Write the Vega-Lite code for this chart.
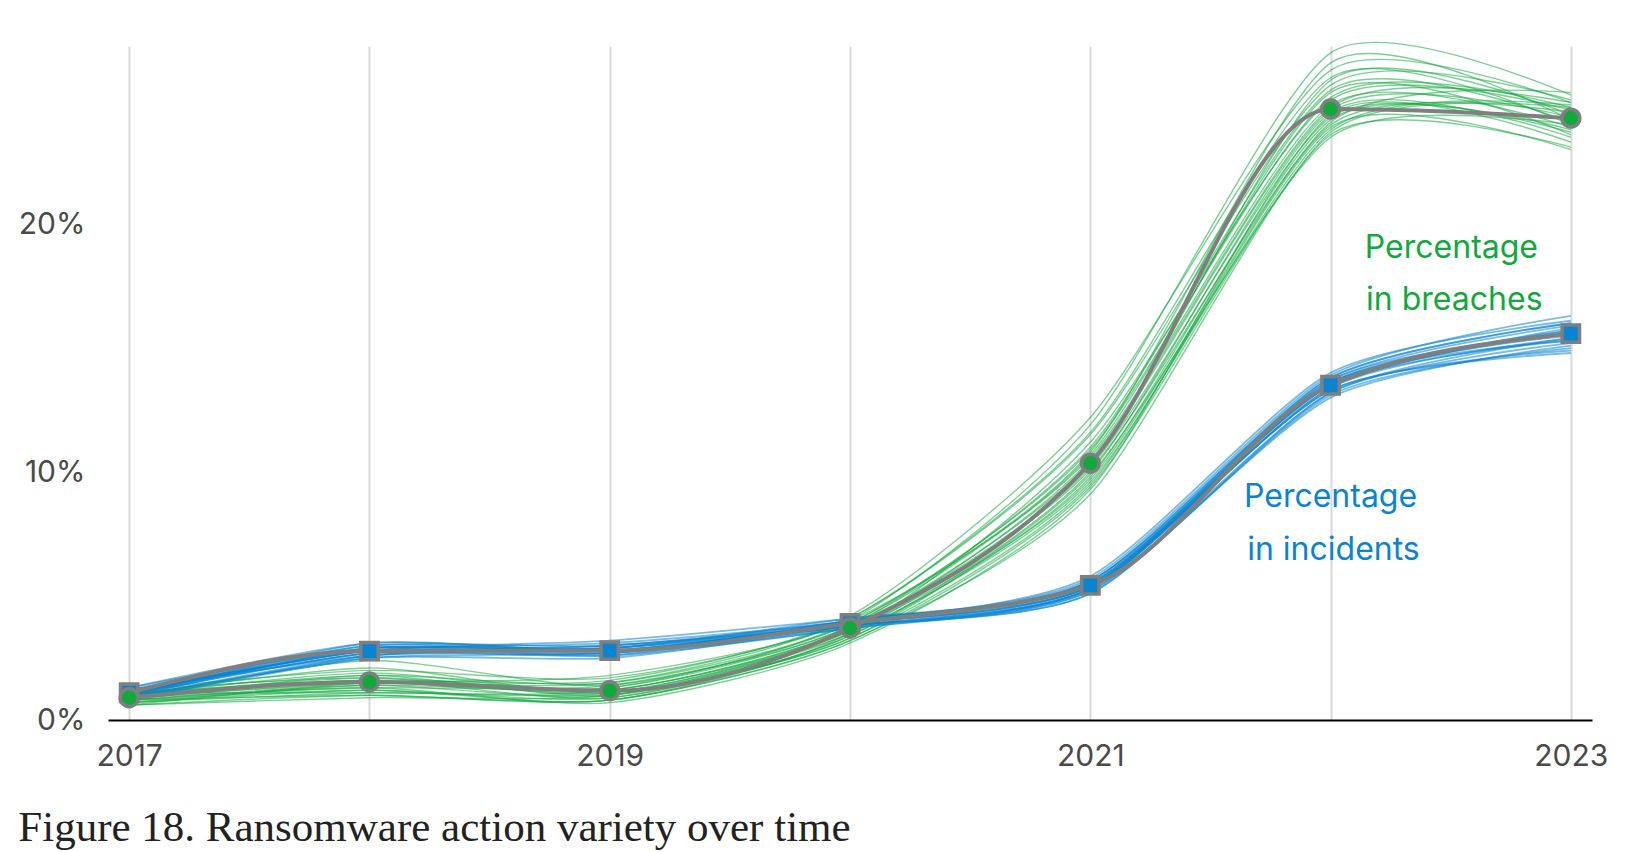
{
  "$schema": "https://vega.github.io/schema/vega-lite/v6.json",
  "width": 1484,
  "height": 674,
  "autosize": {"type": "none"},
  "padding": {"left": 108, "top": 46, "right": 50, "bottom": 132},
  "background": "white",
  "config": {"view": {"stroke": null}, "font": "Inter"},
  "title": {
    "text": "Figure 18. Ransomware action variety over time",
    "orient": "bottom",
    "anchor": "start",
    "font": "Liberation Serif",
    "fontSize": 43,
    "fontWeight": "normal",
    "color": "#222222",
    "baseline": "alphabetic",
    "offset": 70
  },
  "datasets": {
    "main": [
      {"series": "incidents", "year": 2017, "pct": 1.1},
      {"series": "incidents", "year": 2018, "pct": 2.78},
      {"series": "incidents", "year": 2019, "pct": 2.8},
      {"series": "incidents", "year": 2020, "pct": 3.9},
      {"series": "incidents", "year": 2021, "pct": 5.43},
      {"series": "incidents", "year": 2022, "pct": 13.5},
      {"series": "incidents", "year": 2023, "pct": 15.58},
      {"series": "breaches", "year": 2017, "pct": 0.9},
      {"series": "breaches", "year": 2018, "pct": 1.53},
      {"series": "breaches", "year": 2019, "pct": 1.18},
      {"series": "breaches", "year": 2020, "pct": 3.71},
      {"series": "breaches", "year": 2021, "pct": 10.36},
      {"series": "breaches", "year": 2022, "pct": 24.64},
      {"series": "breaches", "year": 2023, "pct": 24.27}
    ],
    "labels": [
      {"series": "breaches", "year": 2022.503, "pct": 18.63, "label": "Percentage"},
      {"series": "breaches", "year": 2022.515, "pct": 16.52, "label": "in breaches"},
      {"series": "incidents", "year": 2022.0, "pct": 8.59, "label": "Percentage"},
      {"series": "incidents", "year": 2022.012, "pct": 6.46, "label": "in incidents"}
    ],
    "samples": [
      {"series":"breaches","line":1,"year":2017,"pct":0.9},{"series":"breaches","line":1,"year":2018,"pct":1.5},{"series":"breaches","line":1,"year":2019,"pct":1.2},{"series":"breaches","line":1,"year":2020,"pct":3.7},{"series":"breaches","line":1,"year":2021,"pct":10.4},{"series":"breaches","line":1,"year":2022,"pct":24.6},{"series":"breaches","line":1,"year":2023,"pct":24.3},
      {"series":"breaches","line":2,"year":2017,"pct":0.7},{"series":"breaches","line":2,"year":2018,"pct":1.2},{"series":"breaches","line":2,"year":2019,"pct":0.9},{"series":"breaches","line":2,"year":2020,"pct":3.4},{"series":"breaches","line":2,"year":2021,"pct":9.8},{"series":"breaches","line":2,"year":2022,"pct":24.2},{"series":"breaches","line":2,"year":2023,"pct":23.8},
      {"series":"breaches","line":3,"year":2017,"pct":1.1},{"series":"breaches","line":3,"year":2018,"pct":1.8},{"series":"breaches","line":3,"year":2019,"pct":1.5},{"series":"breaches","line":3,"year":2020,"pct":3.9},{"series":"breaches","line":3,"year":2021,"pct":10.9},{"series":"breaches","line":3,"year":2022,"pct":25.1},{"series":"breaches","line":3,"year":2023,"pct":24.7},
      {"series":"breaches","line":4,"year":2017,"pct":0.6},{"series":"breaches","line":4,"year":2018,"pct":1.0},{"series":"breaches","line":4,"year":2019,"pct":0.8},{"series":"breaches","line":4,"year":2020,"pct":3.2},{"series":"breaches","line":4,"year":2021,"pct":9.4},{"series":"breaches","line":4,"year":2022,"pct":23.6},{"series":"breaches","line":4,"year":2023,"pct":23.1},
      {"series":"breaches","line":5,"year":2017,"pct":1.2},{"series":"breaches","line":5,"year":2018,"pct":2.0},{"series":"breaches","line":5,"year":2019,"pct":1.7},{"series":"breaches","line":5,"year":2020,"pct":4.1},{"series":"breaches","line":5,"year":2021,"pct":11.5},{"series":"breaches","line":5,"year":2022,"pct":25.6},{"series":"breaches","line":5,"year":2023,"pct":25.0},
      {"series":"breaches","line":6,"year":2017,"pct":0.8},{"series":"breaches","line":6,"year":2018,"pct":1.4},{"series":"breaches","line":6,"year":2019,"pct":1.0},{"series":"breaches","line":6,"year":2020,"pct":3.6},{"series":"breaches","line":6,"year":2021,"pct":10.1},{"series":"breaches","line":6,"year":2022,"pct":24.0},{"series":"breaches","line":6,"year":2023,"pct":24.5},
      {"series":"breaches","line":7,"year":2017,"pct":1.0},{"series":"breaches","line":7,"year":2018,"pct":1.7},{"series":"breaches","line":7,"year":2019,"pct":1.3},{"series":"breaches","line":7,"year":2020,"pct":3.8},{"series":"breaches","line":7,"year":2021,"pct":10.7},{"series":"breaches","line":7,"year":2022,"pct":25.3},{"series":"breaches","line":7,"year":2023,"pct":23.6},
      {"series":"breaches","line":8,"year":2017,"pct":0.7},{"series":"breaches","line":8,"year":2018,"pct":1.1},{"series":"breaches","line":8,"year":2019,"pct":1.1},{"series":"breaches","line":8,"year":2020,"pct":3.5},{"series":"breaches","line":8,"year":2021,"pct":9.6},{"series":"breaches","line":8,"year":2022,"pct":23.8},{"series":"breaches","line":8,"year":2023,"pct":24.8},
      {"series":"breaches","line":9,"year":2017,"pct":0.9},{"series":"breaches","line":9,"year":2018,"pct":2.4},{"series":"breaches","line":9,"year":2019,"pct":1.4},{"series":"breaches","line":9,"year":2020,"pct":4.0},{"series":"breaches","line":9,"year":2021,"pct":11.9},{"series":"breaches","line":9,"year":2022,"pct":26.9},{"series":"breaches","line":9,"year":2023,"pct":25.2},
      {"series":"breaches","line":10,"year":2017,"pct":0.8},{"series":"breaches","line":10,"year":2018,"pct":1.3},{"series":"breaches","line":10,"year":2019,"pct":0.7},{"series":"breaches","line":10,"year":2020,"pct":3.1},{"series":"breaches","line":10,"year":2021,"pct":9.3},{"series":"breaches","line":10,"year":2022,"pct":24.4},{"series":"breaches","line":10,"year":2023,"pct":23.3},
      {"series":"breaches","line":11,"year":2017,"pct":1.1},{"series":"breaches","line":11,"year":2018,"pct":1.6},{"series":"breaches","line":11,"year":2019,"pct":1.6},{"series":"breaches","line":11,"year":2020,"pct":4.2},{"series":"breaches","line":11,"year":2021,"pct":12.2},{"series":"breaches","line":11,"year":2022,"pct":26.2},{"series":"breaches","line":11,"year":2023,"pct":24.9},
      {"series":"breaches","line":12,"year":2017,"pct":0.6},{"series":"breaches","line":12,"year":2018,"pct":0.9},{"series":"breaches","line":12,"year":2019,"pct":1.0},{"series":"breaches","line":12,"year":2020,"pct":3.3},{"series":"breaches","line":12,"year":2021,"pct":9.9},{"series":"breaches","line":12,"year":2022,"pct":23.5},{"series":"breaches","line":12,"year":2023,"pct":24.0},
      {"series":"breaches","line":13,"year":2017,"pct":1.0},{"series":"breaches","line":13,"year":2018,"pct":1.9},{"series":"breaches","line":13,"year":2019,"pct":1.2},{"series":"breaches","line":13,"year":2020,"pct":3.7},{"series":"breaches","line":13,"year":2021,"pct":10.3},{"series":"breaches","line":13,"year":2022,"pct":25.8},{"series":"breaches","line":13,"year":2023,"pct":24.4},
      {"series":"breaches","line":14,"year":2017,"pct":0.9},{"series":"breaches","line":14,"year":2018,"pct":1.5},{"series":"breaches","line":14,"year":2019,"pct":1.8},{"series":"breaches","line":14,"year":2020,"pct":4.0},{"series":"breaches","line":14,"year":2021,"pct":10.6},{"series":"breaches","line":14,"year":2022,"pct":24.8},{"series":"breaches","line":14,"year":2023,"pct":23.9},
      {"series":"breaches","line":15,"year":2017,"pct":0.8},{"series":"breaches","line":15,"year":2018,"pct":1.2},{"series":"breaches","line":15,"year":2019,"pct":0.8},{"series":"breaches","line":15,"year":2020,"pct":3.5},{"series":"breaches","line":15,"year":2021,"pct":11.2},{"series":"breaches","line":15,"year":2022,"pct":25.0},{"series":"breaches","line":15,"year":2023,"pct":24.6},
      {"series":"breaches","line":16,"year":2017,"pct":1.2},{"series":"breaches","line":16,"year":2018,"pct":1.7},{"series":"breaches","line":16,"year":2019,"pct":1.1},{"series":"breaches","line":16,"year":2020,"pct":3.6},{"series":"breaches","line":16,"year":2021,"pct":9.7},{"series":"breaches","line":16,"year":2022,"pct":24.1},{"series":"breaches","line":16,"year":2023,"pct":25.3},
      {"series":"breaches","line":17,"year":2017,"pct":0.7},{"series":"breaches","line":17,"year":2018,"pct":1.4},{"series":"breaches","line":17,"year":2019,"pct":1.3},{"series":"breaches","line":17,"year":2020,"pct":3.9},{"series":"breaches","line":17,"year":2021,"pct":10.8},{"series":"breaches","line":17,"year":2022,"pct":26.5},{"series":"breaches","line":17,"year":2023,"pct":24.2},
      {"series":"breaches","line":18,"year":2017,"pct":1.0},{"series":"breaches","line":18,"year":2018,"pct":1.6},{"series":"breaches","line":18,"year":2019,"pct":0.9},{"series":"breaches","line":18,"year":2020,"pct":3.4},{"series":"breaches","line":18,"year":2021,"pct":10.0},{"series":"breaches","line":18,"year":2022,"pct":24.5},{"series":"breaches","line":18,"year":2023,"pct":23.5},
      {"series":"breaches","line":19,"year":2017,"pct":0.9},{"series":"breaches","line":19,"year":2018,"pct":1.3},{"series":"breaches","line":19,"year":2019,"pct":1.4},{"series":"breaches","line":19,"year":2020,"pct":3.8},{"series":"breaches","line":19,"year":2021,"pct":11.0},{"series":"breaches","line":19,"year":2022,"pct":25.4},{"series":"breaches","line":19,"year":2023,"pct":24.1},
      {"series":"breaches","line":20,"year":2017,"pct":0.8},{"series":"breaches","line":20,"year":2018,"pct":1.8},{"series":"breaches","line":20,"year":2019,"pct":1.0},{"series":"breaches","line":20,"year":2020,"pct":3.3},{"series":"breaches","line":20,"year":2021,"pct":9.5},{"series":"breaches","line":20,"year":2022,"pct":23.9},{"series":"breaches","line":20,"year":2023,"pct":23.0},
      {"series":"breaches","line":21,"year":2017,"pct":1.1},{"series":"breaches","line":21,"year":2018,"pct":1.1},{"series":"breaches","line":21,"year":2019,"pct":1.2},{"series":"breaches","line":21,"year":2020,"pct":3.6},{"series":"breaches","line":21,"year":2021,"pct":10.5},{"series":"breaches","line":21,"year":2022,"pct":24.7},{"series":"breaches","line":21,"year":2023,"pct":24.9},
      {"series":"breaches","line":22,"year":2017,"pct":0.6},{"series":"breaches","line":22,"year":2018,"pct":1.5},{"series":"breaches","line":22,"year":2019,"pct":1.5},{"series":"breaches","line":22,"year":2020,"pct":4.1},{"series":"breaches","line":22,"year":2021,"pct":11.6},{"series":"breaches","line":22,"year":2022,"pct":25.9},{"series":"breaches","line":22,"year":2023,"pct":24.0},
      {"series":"breaches","line":23,"year":2017,"pct":1.0},{"series":"breaches","line":23,"year":2018,"pct":2.1},{"series":"breaches","line":23,"year":2019,"pct":1.1},{"series":"breaches","line":23,"year":2020,"pct":3.5},{"series":"breaches","line":23,"year":2021,"pct":10.2},{"series":"breaches","line":23,"year":2022,"pct":24.3},{"series":"breaches","line":23,"year":2023,"pct":23.7},
      {"series":"breaches","line":24,"year":2017,"pct":0.8},{"series":"breaches","line":24,"year":2018,"pct":1.0},{"series":"breaches","line":24,"year":2019,"pct":0.8},{"series":"breaches","line":24,"year":2020,"pct":3.2},{"series":"breaches","line":24,"year":2021,"pct":9.1},{"series":"breaches","line":24,"year":2022,"pct":23.7},{"series":"breaches","line":24,"year":2023,"pct":24.7},
      {"series":"incidents","line":1,"year":2017,"pct":1.1},{"series":"incidents","line":1,"year":2018,"pct":2.8},{"series":"incidents","line":1,"year":2019,"pct":2.8},{"series":"incidents","line":1,"year":2020,"pct":3.9},{"series":"incidents","line":1,"year":2021,"pct":5.4},{"series":"incidents","line":1,"year":2022,"pct":13.5},{"series":"incidents","line":1,"year":2023,"pct":15.6},
      {"series":"incidents","line":2,"year":2017,"pct":0.9},{"series":"incidents","line":2,"year":2018,"pct":2.6},{"series":"incidents","line":2,"year":2019,"pct":2.7},{"series":"incidents","line":2,"year":2020,"pct":3.8},{"series":"incidents","line":2,"year":2021,"pct":5.2},{"series":"incidents","line":2,"year":2022,"pct":13.2},{"series":"incidents","line":2,"year":2023,"pct":15.2},
      {"series":"incidents","line":3,"year":2017,"pct":1.2},{"series":"incidents","line":3,"year":2018,"pct":3.0},{"series":"incidents","line":3,"year":2019,"pct":3.0},{"series":"incidents","line":3,"year":2020,"pct":4.0},{"series":"incidents","line":3,"year":2021,"pct":5.6},{"series":"incidents","line":3,"year":2022,"pct":13.8},{"series":"incidents","line":3,"year":2023,"pct":16.0},
      {"series":"incidents","line":4,"year":2017,"pct":1.0},{"series":"incidents","line":4,"year":2018,"pct":2.7},{"series":"incidents","line":4,"year":2019,"pct":2.6},{"series":"incidents","line":4,"year":2020,"pct":3.7},{"series":"incidents","line":4,"year":2021,"pct":5.3},{"series":"incidents","line":4,"year":2022,"pct":13.4},{"series":"incidents","line":4,"year":2023,"pct":15.4},
      {"series":"incidents","line":5,"year":2017,"pct":1.3},{"series":"incidents","line":5,"year":2018,"pct":2.9},{"series":"incidents","line":5,"year":2019,"pct":2.9},{"series":"incidents","line":5,"year":2020,"pct":4.1},{"series":"incidents","line":5,"year":2021,"pct":5.5},{"series":"incidents","line":5,"year":2022,"pct":13.7},{"series":"incidents","line":5,"year":2023,"pct":15.9},
      {"series":"incidents","line":6,"year":2017,"pct":0.8},{"series":"incidents","line":6,"year":2018,"pct":2.5},{"series":"incidents","line":6,"year":2019,"pct":2.7},{"series":"incidents","line":6,"year":2020,"pct":3.8},{"series":"incidents","line":6,"year":2021,"pct":5.1},{"series":"incidents","line":6,"year":2022,"pct":13.1},{"series":"incidents","line":6,"year":2023,"pct":15.0},
      {"series":"incidents","line":7,"year":2017,"pct":1.1},{"series":"incidents","line":7,"year":2018,"pct":2.8},{"series":"incidents","line":7,"year":2019,"pct":3.1},{"series":"incidents","line":7,"year":2020,"pct":4.0},{"series":"incidents","line":7,"year":2021,"pct":5.7},{"series":"incidents","line":7,"year":2022,"pct":13.9},{"series":"incidents","line":7,"year":2023,"pct":16.3},
      {"series":"incidents","line":8,"year":2017,"pct":1.0},{"series":"incidents","line":8,"year":2018,"pct":3.1},{"series":"incidents","line":8,"year":2019,"pct":2.8},{"series":"incidents","line":8,"year":2020,"pct":3.9},{"series":"incidents","line":8,"year":2021,"pct":5.4},{"series":"incidents","line":8,"year":2022,"pct":13.3},{"series":"incidents","line":8,"year":2023,"pct":14.8},
      {"series":"incidents","line":9,"year":2017,"pct":1.2},{"series":"incidents","line":9,"year":2018,"pct":2.6},{"series":"incidents","line":9,"year":2019,"pct":2.9},{"series":"incidents","line":9,"year":2020,"pct":3.8},{"series":"incidents","line":9,"year":2021,"pct":5.3},{"series":"incidents","line":9,"year":2022,"pct":13.6},{"series":"incidents","line":9,"year":2023,"pct":15.7},
      {"series":"incidents","line":10,"year":2017,"pct":0.9},{"series":"incidents","line":10,"year":2018,"pct":2.9},{"series":"incidents","line":10,"year":2019,"pct":2.6},{"series":"incidents","line":10,"year":2020,"pct":4.0},{"series":"incidents","line":10,"year":2021,"pct":5.5},{"series":"incidents","line":10,"year":2022,"pct":13.5},{"series":"incidents","line":10,"year":2023,"pct":15.3},
      {"series":"incidents","line":11,"year":2017,"pct":1.1},{"series":"incidents","line":11,"year":2018,"pct":2.7},{"series":"incidents","line":11,"year":2019,"pct":3.0},{"series":"incidents","line":11,"year":2020,"pct":3.9},{"series":"incidents","line":11,"year":2021,"pct":5.8},{"series":"incidents","line":11,"year":2022,"pct":14.0},{"series":"incidents","line":11,"year":2023,"pct":16.1},
      {"series":"incidents","line":12,"year":2017,"pct":1.0},{"series":"incidents","line":12,"year":2018,"pct":3.0},{"series":"incidents","line":12,"year":2019,"pct":2.7},{"series":"incidents","line":12,"year":2020,"pct":3.7},{"series":"incidents","line":12,"year":2021,"pct":5.2},{"series":"incidents","line":12,"year":2022,"pct":13.0},{"series":"incidents","line":12,"year":2023,"pct":15.1},
      {"series":"incidents","line":13,"year":2017,"pct":1.2},{"series":"incidents","line":13,"year":2018,"pct":2.8},{"series":"incidents","line":13,"year":2019,"pct":3.2},{"series":"incidents","line":13,"year":2020,"pct":4.1},{"series":"incidents","line":13,"year":2021,"pct":5.4},{"series":"incidents","line":13,"year":2022,"pct":13.6},{"series":"incidents","line":13,"year":2023,"pct":15.5},
      {"series":"incidents","line":14,"year":2017,"pct":0.9},{"series":"incidents","line":14,"year":2018,"pct":2.5},{"series":"incidents","line":14,"year":2019,"pct":2.5},{"series":"incidents","line":14,"year":2020,"pct":3.8},{"series":"incidents","line":14,"year":2021,"pct":5.3},{"series":"incidents","line":14,"year":2022,"pct":13.4},{"series":"incidents","line":14,"year":2023,"pct":15.8},
      {"series":"incidents","line":15,"year":2017,"pct":1.1},{"series":"incidents","line":15,"year":2018,"pct":2.9},{"series":"incidents","line":15,"year":2019,"pct":2.8},{"series":"incidents","line":15,"year":2020,"pct":3.9},{"series":"incidents","line":15,"year":2021,"pct":5.6},{"series":"incidents","line":15,"year":2022,"pct":13.7},{"series":"incidents","line":15,"year":2023,"pct":15.6},
      {"series":"incidents","line":16,"year":2017,"pct":1.0},{"series":"incidents","line":16,"year":2018,"pct":2.7},{"series":"incidents","line":16,"year":2019,"pct":2.9},{"series":"incidents","line":16,"year":2020,"pct":4.0},{"series":"incidents","line":16,"year":2021,"pct":5.5},{"series":"incidents","line":16,"year":2022,"pct":13.3},{"series":"incidents","line":16,"year":2023,"pct":14.9},
      {"series":"incidents","line":17,"year":2017,"pct":1.3},{"series":"incidents","line":17,"year":2018,"pct":3.1},{"series":"incidents","line":17,"year":2019,"pct":2.8},{"series":"incidents","line":17,"year":2020,"pct":3.9},{"series":"incidents","line":17,"year":2021,"pct":5.4},{"series":"incidents","line":17,"year":2022,"pct":13.8},{"series":"incidents","line":17,"year":2023,"pct":16.0},
      {"series":"incidents","line":18,"year":2017,"pct":0.8},{"series":"incidents","line":18,"year":2018,"pct":2.6},{"series":"incidents","line":18,"year":2019,"pct":3.0},{"series":"incidents","line":18,"year":2020,"pct":3.8},{"series":"incidents","line":18,"year":2021,"pct":5.1},{"series":"incidents","line":18,"year":2022,"pct":13.2},{"series":"incidents","line":18,"year":2023,"pct":15.4},
      {"series":"incidents","line":19,"year":2017,"pct":1.1},{"series":"incidents","line":19,"year":2018,"pct":2.8},{"series":"incidents","line":19,"year":2019,"pct":2.7},{"series":"incidents","line":19,"year":2020,"pct":4.0},{"series":"incidents","line":19,"year":2021,"pct":5.6},{"series":"incidents","line":19,"year":2022,"pct":13.5},{"series":"incidents","line":19,"year":2023,"pct":15.7},
      {"series":"incidents","line":20,"year":2017,"pct":1.0},{"series":"incidents","line":20,"year":2018,"pct":2.9},{"series":"incidents","line":20,"year":2019,"pct":2.9},{"series":"incidents","line":20,"year":2020,"pct":3.9},{"series":"incidents","line":20,"year":2021,"pct":5.3},{"series":"incidents","line":20,"year":2022,"pct":13.6},{"series":"incidents","line":20,"year":2023,"pct":15.3}
    ]
  },
  "encoding": {
    "x": {
      "field": "year",
      "type": "quantitative",
      "scale": {"domain": [2016.912, 2023.088], "nice": false, "zero": false},
      "axis": {
        "title": null,
        "values": [2017, 2018, 2019, 2020, 2021, 2022, 2023],
        "labelExpr": "datum.value % 2 == 1 ? datum.value + '' : ''",
        "grid": true,
        "gridColor": "#d9d9d9",
        "gridWidth": 2,
        "domain": true,
        "domainColor": "#000000",
        "domainWidth": 2,
        "ticks": false,
        "labelFont": "Inter",
        "labelFontSize": 30,
        "labelColor": "#4a4a4a",
        "labelPadding": 21,
        "labelFlush": false,
        "labelOverlap": false
      }
    },
    "y": {
      "field": "pct",
      "type": "quantitative",
      "scale": {"domain": [0, 27.18], "nice": false, "zero": true},
      "axis": {
        "title": null,
        "values": [0, 10, 20],
        "labelExpr": "datum.value + '%'",
        "grid": false,
        "domain": false,
        "ticks": false,
        "labelFont": "Inter",
        "labelFontSize": 30,
        "labelColor": "#4a4a4a",
        "labelPadding": 23
      }
    }
  },
  "layer": [
    {
      "data": {"name": "samples"},
      "mark": {"type": "line", "interpolate": "cardinal", "tension": 0.3, "opacity": 0.55},
      "encoding": {
        "detail": {"field": "line", "type": "nominal"},
        "color": {
          "field": "series", "type": "nominal", "legend": null,
          "scale": {"domain": ["breaches", "incidents"], "range": ["#12a83e", "#0a84cf"]}
        },
        "strokeWidth": {
          "field": "series", "type": "nominal", "legend": null,
          "scale": {"domain": ["breaches", "incidents"], "range": [1.4, 1.8]}
        },
        "order": {"field": "year", "type": "quantitative"}
      }
    },
    {
      "data": {"name": "main"},
      "mark": {"type": "line", "interpolate": "monotone", "strokeWidth": 4, "color": "#7f7f7f"},
      "encoding": {
        "detail": {"field": "series", "type": "nominal"}
      }
    },
    {
      "data": {"name": "main"},
      "mark": {"type": "point", "filled": true, "stroke": "#7f7f7f", "strokeWidth": 3.5, "opacity": 1},
      "encoding": {
        "color": {
          "field": "series", "type": "nominal", "legend": null,
          "scale": {"domain": ["breaches", "incidents"], "range": ["#12a83e", "#0a84cf"]}
        },
        "shape": {
          "field": "series", "type": "nominal", "legend": null,
          "scale": {"domain": ["breaches", "incidents"], "range": ["circle", "square"]}
        },
        "size": {
          "field": "series", "type": "nominal", "legend": null,
          "scale": {"domain": ["breaches", "incidents"], "range": [320, 300]}
        }
      }
    },
    {
      "data": {"name": "labels"},
      "mark": {"type": "text", "font": "Inter", "fontSize": 32, "align": "center", "baseline": "alphabetic"},
      "encoding": {
        "text": {"field": "label", "type": "nominal"},
        "color": {
          "field": "series", "type": "nominal", "legend": null,
          "scale": {"domain": ["breaches", "incidents"], "range": ["#12a83e", "#0a84cf"]}
        }
      }
    }
  ]
}
